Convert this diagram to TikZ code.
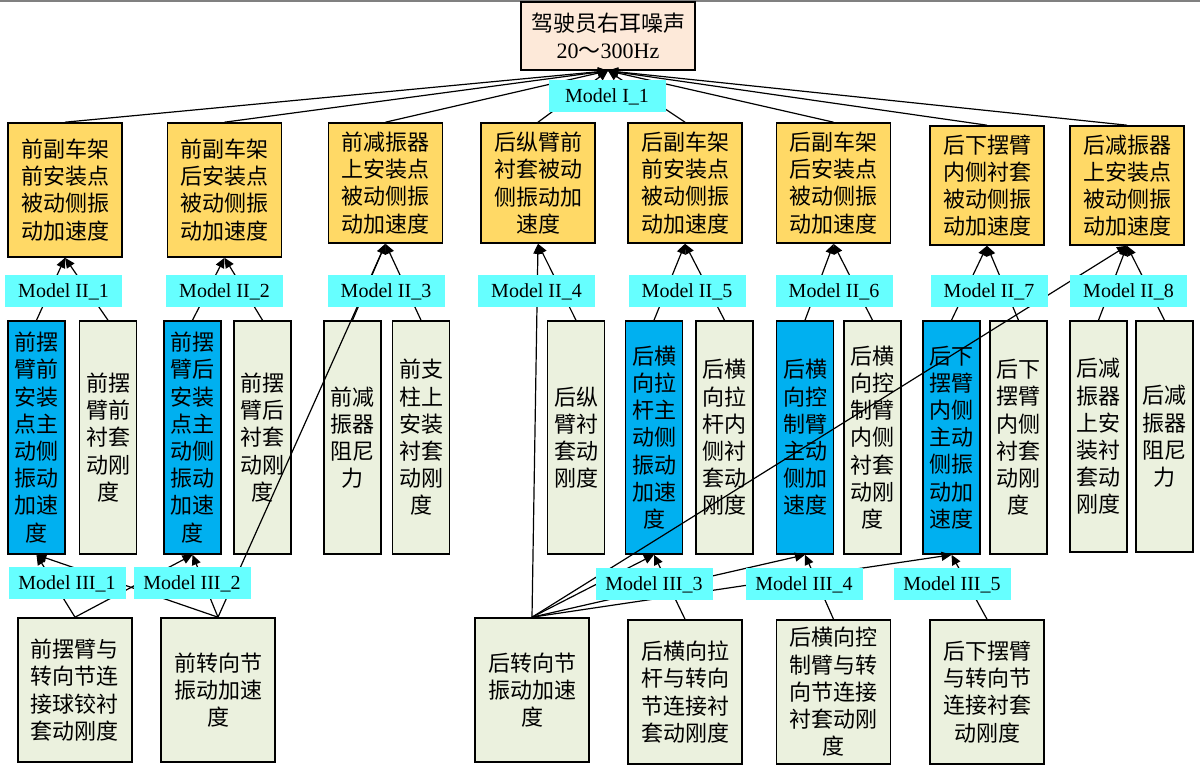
\documentclass[tikz,border=0pt]{standalone}
\usepackage{fontspec}
\setmainfont{Liberation Serif}
\newfontfamily\cjk{Noto Sans CJK SC}
\usepackage{tikz}
\usetikzlibrary{arrows.meta}
\tikzset{>={Triangle[width=4.5pt,length=5pt]}}
\definecolor{peach}{RGB}{253,233,217}
\definecolor{gold}{RGB}{255,217,102}
\definecolor{skyblue}{RGB}{0,176,240}
\definecolor{sage}{RGB}{235,241,222}
\definecolor{aqua}{RGB}{102,255,255}

\begin{document}
\begin{tikzpicture}[x=0.5pt,y=-0.5pt]
          \tikzstyle{box} = [draw=black, line width=0.8pt, inner sep=0pt, align=center, font=\cjk\fontsize{11}{13.6}\selectfont]
          \tikzstyle{tnode} = [box, fill=peach, minimum width=87pt, minimum height=34pt]
          \tikzstyle{onode} = [box, fill=gold, minimum width=57pt]
          \tikzstyle{bnode} = [box, fill=skyblue, minimum width=28.5pt, minimum height=116.5pt]
          \tikzstyle{gnode} = [box, fill=sage, minimum width=28.5pt, minimum height=116.5pt]
          \tikzstyle{lnode} = [box, fill=sage, minimum width=57pt, minimum height=72pt]
          \tikzstyle{mnode} = [fill=aqua, inner sep=0pt, minimum width=58.5pt, minimum height=16pt, font=\fontsize{10}{12}\selectfont]
          \tikzstyle{edge} = [->, line width=0.6pt]

          \useasboundingbox (0,0) rectangle (1200,774);
          \draw[gray, line width=1pt] (0,1) -- (1200,1);

          \node[tnode] (t) at (608,36) {驾驶员右耳噪声\\{\rmfamily 20}～{\rmfamily 300Hz}};

          \node[onode, minimum height=67pt] (a1) at (65,190) {前副车架\\前安装点\\被动侧振\\动加速度};
          \node[onode, minimum height=67pt] (a2) at (224.5,190) {前副车架\\后安装点\\被动侧振\\动加速度};
          \node[onode, minimum height=60pt] (a3) at (385.5,183) {前减振器\\上安装点\\被动侧振\\动加速度};
          \node[onode, minimum height=60pt] (a4) at (538,183) {后纵臂前\\衬套被动\\侧振动加\\速度};
          \node[onode, minimum height=60pt] (a5) at (685,183) {后副车架\\前安装点\\被动侧振\\动加速度};
          \node[onode, minimum height=60pt] (a6) at (833.5,183) {后副车架\\后安装点\\被动侧振\\动加速度};
          \node[onode, minimum height=59.5pt] (a7) at (987,185.5) {后下摆臂\\内侧衬套\\被动侧振\\动加速度};
          \node[onode, minimum height=59.5pt] (a8) at (1127,185.5) {后减振器\\上安装点\\被动侧振\\动加速度};

          \node[bnode] (b1) at (36.5,437.5) {前摆\\臂前\\安装\\点主\\动侧\\振动\\加速\\度};
          \node[gnode] (b2) at (108,437.5) {前摆\\臂前\\衬套\\动刚\\度};
          \node[bnode] (b3) at (192.5,437.5) {前摆\\臂后\\安装\\点主\\动侧\\振动\\加速\\度};
          \node[gnode] (b4) at (262.5,437.5) {前摆\\臂后\\衬套\\动刚\\度};
          \node[gnode] (b5) at (352.5,437.5) {前减\\振器\\阻尼\\力};
          \node[gnode] (b6) at (421,437.5) {前支\\柱上\\安装\\衬套\\动刚\\度};
          \node[gnode] (b7) at (576,437.5) {后纵\\臂衬\\套动\\刚度};
          \node[bnode] (b8) at (654,437.5) {后横\\向拉\\杆主\\动侧\\振动\\加速\\度};
          \node[gnode] (b9) at (724.5,437.5) {后横\\向拉\\杆内\\侧衬\\套动\\刚度};
          \node[bnode] (b10) at (805,437.5) {后横\\向控\\制臂\\主动\\侧加\\速度};
          \node[gnode] (b11) at (872.5,437.5) {后横\\向控\\制臂\\内侧\\衬套\\动刚\\度};
          \node[bnode] (b12) at (951.5,437.5) {后下\\摆臂\\内侧\\主动\\侧振\\动加\\速度};
          \node[gnode] (b13) at (1018.5,437.5) {后下\\摆臂\\内侧\\衬套\\动刚\\度};
          \node[gnode, minimum height=115.5pt] (b14) at (1098.5,436.5) {后减\\振器\\上安\\装衬\\套动\\刚度};
          \node[gnode, minimum height=115.5pt] (b15) at (1164.5,436.5) {后减\\振器\\阻尼\\力};

          \node[lnode] (c1) at (75,690) {前摆臂与\\转向节连\\接球铰衬\\套动刚度};
          \node[lnode] (c2) at (218,690) {前转向节\\振动加速\\度};
          \node[lnode] (c3) at (532,690) {后转向节\\振动加速\\度};
          \node[lnode] (c4) at (685,692) {后横向拉\\杆与转向\\节连接衬\\套动刚度};
          \node[lnode] (c5) at (833.5,692) {后横向控\\制臂与转\\向节连接\\衬套动刚\\度};
          \node[lnode] (c6) at (987,692) {后下摆臂\\与转向节\\连接衬套\\动刚度};

          \draw[edge] (a1.north) to (t.south);
          \draw[edge] (a2.north) to (t.south);
          \draw[edge] (a3.north) to (t.south);
          \draw[edge] (a4.north) to (t.south);
          \draw[edge] (a5.north) to (t.south);
          \draw[edge] (a6.north) to (t.south);
          \draw[edge] (a7.north) to (t.south);
          \draw[edge] (a8.north) to (t.south);

          \draw[edge] (b1.north) to (a1.south);
          \draw[edge] (b2.north) to (a1.south);
          \draw[edge] (b3.north) to (a2.south);
          \draw[edge] (b4.north) to (a2.south);
          \draw[edge] (b5.north) to (a3.south);
          \draw[edge] (b6.north) to (a3.south);
          \draw[edge] (c2.north) to (a3.south);
          \draw[edge] (b7.north) to (a4.south);
          \draw[edge] (c3.north) to (a4.south);
          \draw[edge] (b8.north) to (a5.south);
          \draw[edge] (b9.north) to (a5.south);
          \draw[edge] (b10.north) to (a6.south);
          \draw[edge] (b11.north) to (a6.south);
          \draw[edge] (b12.north) to (a7.south);
          \draw[edge] (b13.north) to (a7.south);
          \draw[edge] (b14.north) to (a8.south);
          \draw[edge] (b15.north) to (a8.south);
          \draw[edge] (c3.north) to (a8.south);

          \draw[edge] (c1.north) to (b1.south);
          \draw[edge] (c2.north) to (b1.south);
          \draw[edge] (c1.north) to (b3.south);
          \draw[edge] (c2.north) to (b3.south);
          \draw[edge] (c3.north) to (b8.south);
          \draw[edge] (c4.north) to (b8.south);
          \draw[edge] (c3.north) to (b10.south);
          \draw[edge] (c5.north) to (b10.south);
          \draw[edge] (c3.north) to (b12.south);
          \draw[edge] (c6.north) to (b12.south);

          % model labels on top of the connectors
          \node[mnode] (m1) at (607,96.5) {Model I\_1};
          \node[mnode] (m21) at (63.5,291.5) {Model II\_1};
          \node[mnode] (m22) at (224.5,291.5) {Model II\_2};
          \node[mnode] (m23) at (386,291.5) {Model II\_3};
          \node[mnode] (m24) at (536.5,291.5) {Model II\_4};
          \node[mnode] (m25) at (687,291.5) {Model II\_5};
          \node[mnode] (m26) at (834,291.5) {Model II\_6};
          \node[mnode] (m27) at (989,291.5) {Model II\_7};
          \node[mnode] (m28) at (1128.5,291.5) {Model II\_8};
          \node[mnode] (m31) at (67,583.5) {Model III\_1};
          \node[mnode] (m32) at (192,583.5) {Model III\_2};
          \node[mnode] (m33) at (654,584.5) {Model III\_3};
          \node[mnode] (m34) at (804,584.5) {Model III\_4};
          \node[mnode] (m35) at (952,584.5) {Model III\_5};
\end{tikzpicture}
\end{document}
